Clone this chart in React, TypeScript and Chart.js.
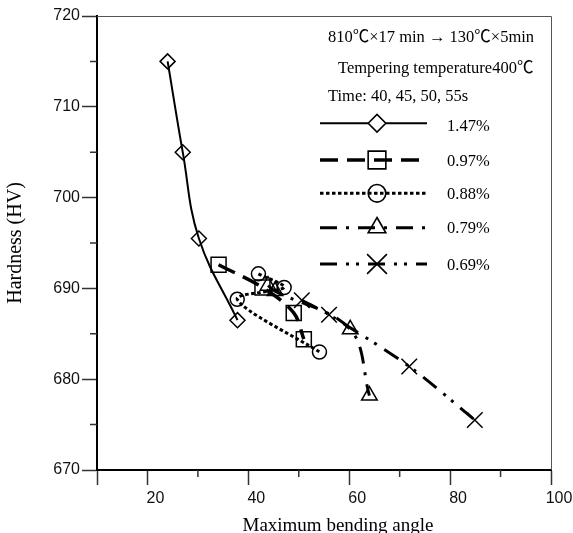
import React, { useEffect, useRef } from 'react';
import { Chart, registerables } from 'chart.js';

Chart.register(...registerables);

// ---- data ----
const angle147 = [24.0, 27.0, 30.2, 37.85];
const hv147 = [715.0, 705.0, 695.5, 686.5];
const angle097 = [34.1, 42.8, 49.0, 51.0];
const hv097 = [692.6, 690.1, 687.3, 684.4];
const angle088 = [42.0, 47.1, 37.8, 54.1];
const hv088 = [691.6, 690.1, 688.8, 683.0];
const angle079 = [43.9, 45.3, 60.2, 64.0];
const hv079 = [690.3, 689.7, 685.5, 678.2];
const angle069 = [50.6, 56.0, 71.9, 84.9];
const hv069 = [688.7, 687.1, 681.4, 675.5];

const seriesLabels = ['1.47%', '0.97%', '0.88%', '0.79%', '0.69%'];
const xMinorTicks = [30, 50, 70, 90];
const yMinorTicks = [675, 685, 695, 705, 715];
const noteLines = ['810\u2103\u00d717 min \u2192 130\u2103\u00d75min', 'Tempering temperature400\u2103', 'Time: 40, 45, 50, 55s'];
const xTitle = 'Maximum bending angle';
const yTitle = 'Hardness (HV)';

// ---- styles ----
const dashes: number[][] = [[], [18, 9], [3.5, 2.5], [17, 9, 3, 9], [17, 9, 3, 7, 3, 9]];
const lineWidths = [2, 3.5, 3, 3, 3];
const pointStyles = ['rectRot', 'rect', 'circle', 'triangle', 'crossRot'];
const plotRadii = [7.5, 10.6, 7, 9, 11];
const legendRadii = [8.8, 12.5, 8.8, 10.2, 14];

const SERIF = '"Liberation Serif", "Times New Roman", "Noto Sans CJK SC", serif';
const SANS = '"Liberation Sans", Arial, sans-serif';

function pts(xs: number[], ys: number[]) {
  return xs.map((x, i) => ({ x, y: ys[i] }));
}

function drawMarker(ctx: CanvasRenderingContext2D, style: string, x: number, y: number, r: number) {
  ctx.beginPath();
  if (style === 'rectRot') {
    ctx.moveTo(x - r, y);
    ctx.lineTo(x, y - r);
    ctx.lineTo(x + r, y);
    ctx.lineTo(x, y + r);
    ctx.closePath();
  } else if (style === 'rect') {
    const s = Math.SQRT1_2 * r;
    ctx.rect(x - s, y - s, 2 * s, 2 * s);
  } else if (style === 'circle') {
    ctx.arc(x, y, r, 0, Math.PI * 2);
  } else if (style === 'triangle') {
    let a = 0;
    ctx.moveTo(x + Math.sin(a) * r, y - Math.cos(a) * r);
    a += (2 * Math.PI) / 3;
    ctx.lineTo(x + Math.sin(a) * r, y - Math.cos(a) * r);
    a += (2 * Math.PI) / 3;
    ctx.lineTo(x + Math.sin(a) * r, y - Math.cos(a) * r);
    ctx.closePath();
  } else if (style === 'crossRot') {
    const o = Math.cos(Math.PI / 4) * r;
    ctx.moveTo(x - o, y - o);
    ctx.lineTo(x + o, y + o);
    ctx.moveTo(x + o, y - o);
    ctx.lineTo(x - o, y + o);
  }
  ctx.stroke();
}

const overlay = {
  id: 'overlay',
  afterDraw(chart: any) {
    const { ctx, chartArea: a, scales } = chart;
    const xs = scales.x;
    const ys = scales.y;
    ctx.save();
    // top and right frame
    ctx.strokeStyle = '#555';
    ctx.lineWidth = 1;
    ctx.setLineDash([]);
    ctx.beginPath();
    ctx.moveTo(a.left, Math.round(a.top) + 0.5);
    ctx.lineTo(Math.round(a.right) + 0.5, Math.round(a.top) + 0.5);
    ctx.lineTo(Math.round(a.right) + 0.5, a.bottom);
    ctx.stroke();
    // minor ticks
    ctx.strokeStyle = '#333';
    ctx.lineWidth = 1.5;
    ctx.beginPath();
    for (const v of yMinorTicks) {
      const py = ys.getPixelForValue(v);
      ctx.moveTo(a.left - 7, py);
      ctx.lineTo(a.left, py);
    }
    for (const v of xMinorTicks) {
      const px = xs.getPixelForValue(v);
      ctx.moveTo(px, a.bottom);
      ctx.lineTo(px, a.bottom + 7);
    }
    ctx.stroke();
    // x title
    ctx.fillStyle = '#000';
    ctx.font = '19px ' + SERIF;
    ctx.textAlign = 'center';
    ctx.textBaseline = 'alphabetic';
    ctx.fillText(xTitle, (a.left + a.right) / 2 + 14, 531);
    // notes
    ctx.font = '16.5px ' + SERIF;
    ctx.textAlign = 'left';
    const noteX = [a.left + 231, a.left + 241, a.left + 231];
    const noteY = [42, 73, 101];
    noteLines.forEach((t, i) => ctx.fillText(t, noteX[i], noteY[i]));
    // legend entries
    const lineY = [123.3, 160, 193.3, 227.7, 264];
    const textY = [131, 166, 199, 233, 270];
    const x0 = a.left + 223;
    const x1 = a.left + 330;
    const xm = a.left + 280;
    seriesLabels.forEach((lab, i) => {
      ctx.strokeStyle = '#000';
      ctx.lineWidth = lineWidths[i];
      ctx.lineCap = 'butt';
      ctx.setLineDash(dashes[i]);
      ctx.beginPath();
      if (i === 0) {
        ctx.moveTo(x0, lineY[i]);
        ctx.lineTo(xm - legendRadii[i], lineY[i]);
        ctx.moveTo(xm + legendRadii[i], lineY[i]);
        ctx.lineTo(x1, lineY[i]);
      } else {
        ctx.moveTo(x0, lineY[i]);
        ctx.lineTo(x1, lineY[i]);
      }
      ctx.stroke();
      ctx.setLineDash([]);
      ctx.lineWidth = 1.6;
      drawMarker(ctx, pointStyles[i], xm, lineY[i], legendRadii[i]);
      ctx.fillStyle = '#000';
      ctx.fillText(lab, a.left + 350, textY[i]);
    });
    ctx.restore();
  },
};

export default function App() {
  const ref = useRef<HTMLCanvasElement>(null);
  useEffect(() => {
    const series = [
      pts(angle147, hv147),
      pts(angle097, hv097),
      pts(angle088, hv088),
      pts(angle079, hv079),
      pts(angle069, hv069),
    ];
    const tensions = [0.4, 0.35, 0.3, 0.35, 0.3];
    const chart = new Chart(ref.current as HTMLCanvasElement, {
      type: 'scatter',
      data: {
        datasets: series.map((d, i) => ({
          label: seriesLabels[i],
          data: d,
          showLine: true,
          borderColor: '#000',
          borderWidth: lineWidths[i],
          borderDash: dashes[i],
          borderCapStyle: 'butt',
          tension: tensions[i],
          pointStyle: pointStyles[i],
          pointRadius: plotRadii[i],
          pointBorderWidth: 1.5,
          pointBorderColor: '#000',
          pointBackgroundColor: 'rgba(0,0,0,0)',
        })) as any,
      },
      options: {
        animation: false,
        responsive: false,
        layout: { padding: { left: 0, top: 16, right: 22, bottom: 0 } },
        plugins: { legend: { display: false }, tooltip: { enabled: false } },
        scales: {
          x: {
            type: 'linear',
            min: 10,
            max: 100,
            afterFit: (s: any) => {
              s.height = 63;
              s.paddingLeft = 0;
              s.paddingRight = 0;
            },
            ticks: {
              stepSize: 20,
              labelOffset: 8,
              padding: 4,
              color: '#111',
              font: { family: SANS, size: 16 },
              callback: (v: any) => (v === 10 ? '' : String(v)),
            },
            grid: { display: true, drawOnChartArea: false, drawTicks: true, tickLength: 15, tickColor: '#333', tickWidth: 1.5 },
            border: { display: true, color: '#000', width: 2 },
          },
          y: {
            type: 'linear',
            min: 670,
            max: 720,
            afterFit: (s: any) => {
              s.width = 97;
              s.paddingTop = 0;
              s.paddingBottom = 0;
            },
            ticks: {
              stepSize: 10,
              padding: 2,
              color: '#111',
              font: { family: SANS, size: 16 },
            },
            grid: { display: true, drawOnChartArea: false, drawTicks: true, tickLength: 15, tickColor: '#333', tickWidth: 1.5 },
            border: { display: true, color: '#000', width: 2 },
            title: {
              display: true,
              text: yTitle,
              color: '#000',
              font: { family: SERIF, size: 20 },
              padding: { top: 4, bottom: 0 },
            },
          },
        },
      },
      plugins: [overlay],
    });
    return () => chart.destroy();
  }, []);
  return (
    <canvas
      ref={ref}
      width={573}
      height={533}
      style={{ position: 'absolute', left: 0, top: 0, display: 'block', background: '#fff' }}
    />
  );
}
